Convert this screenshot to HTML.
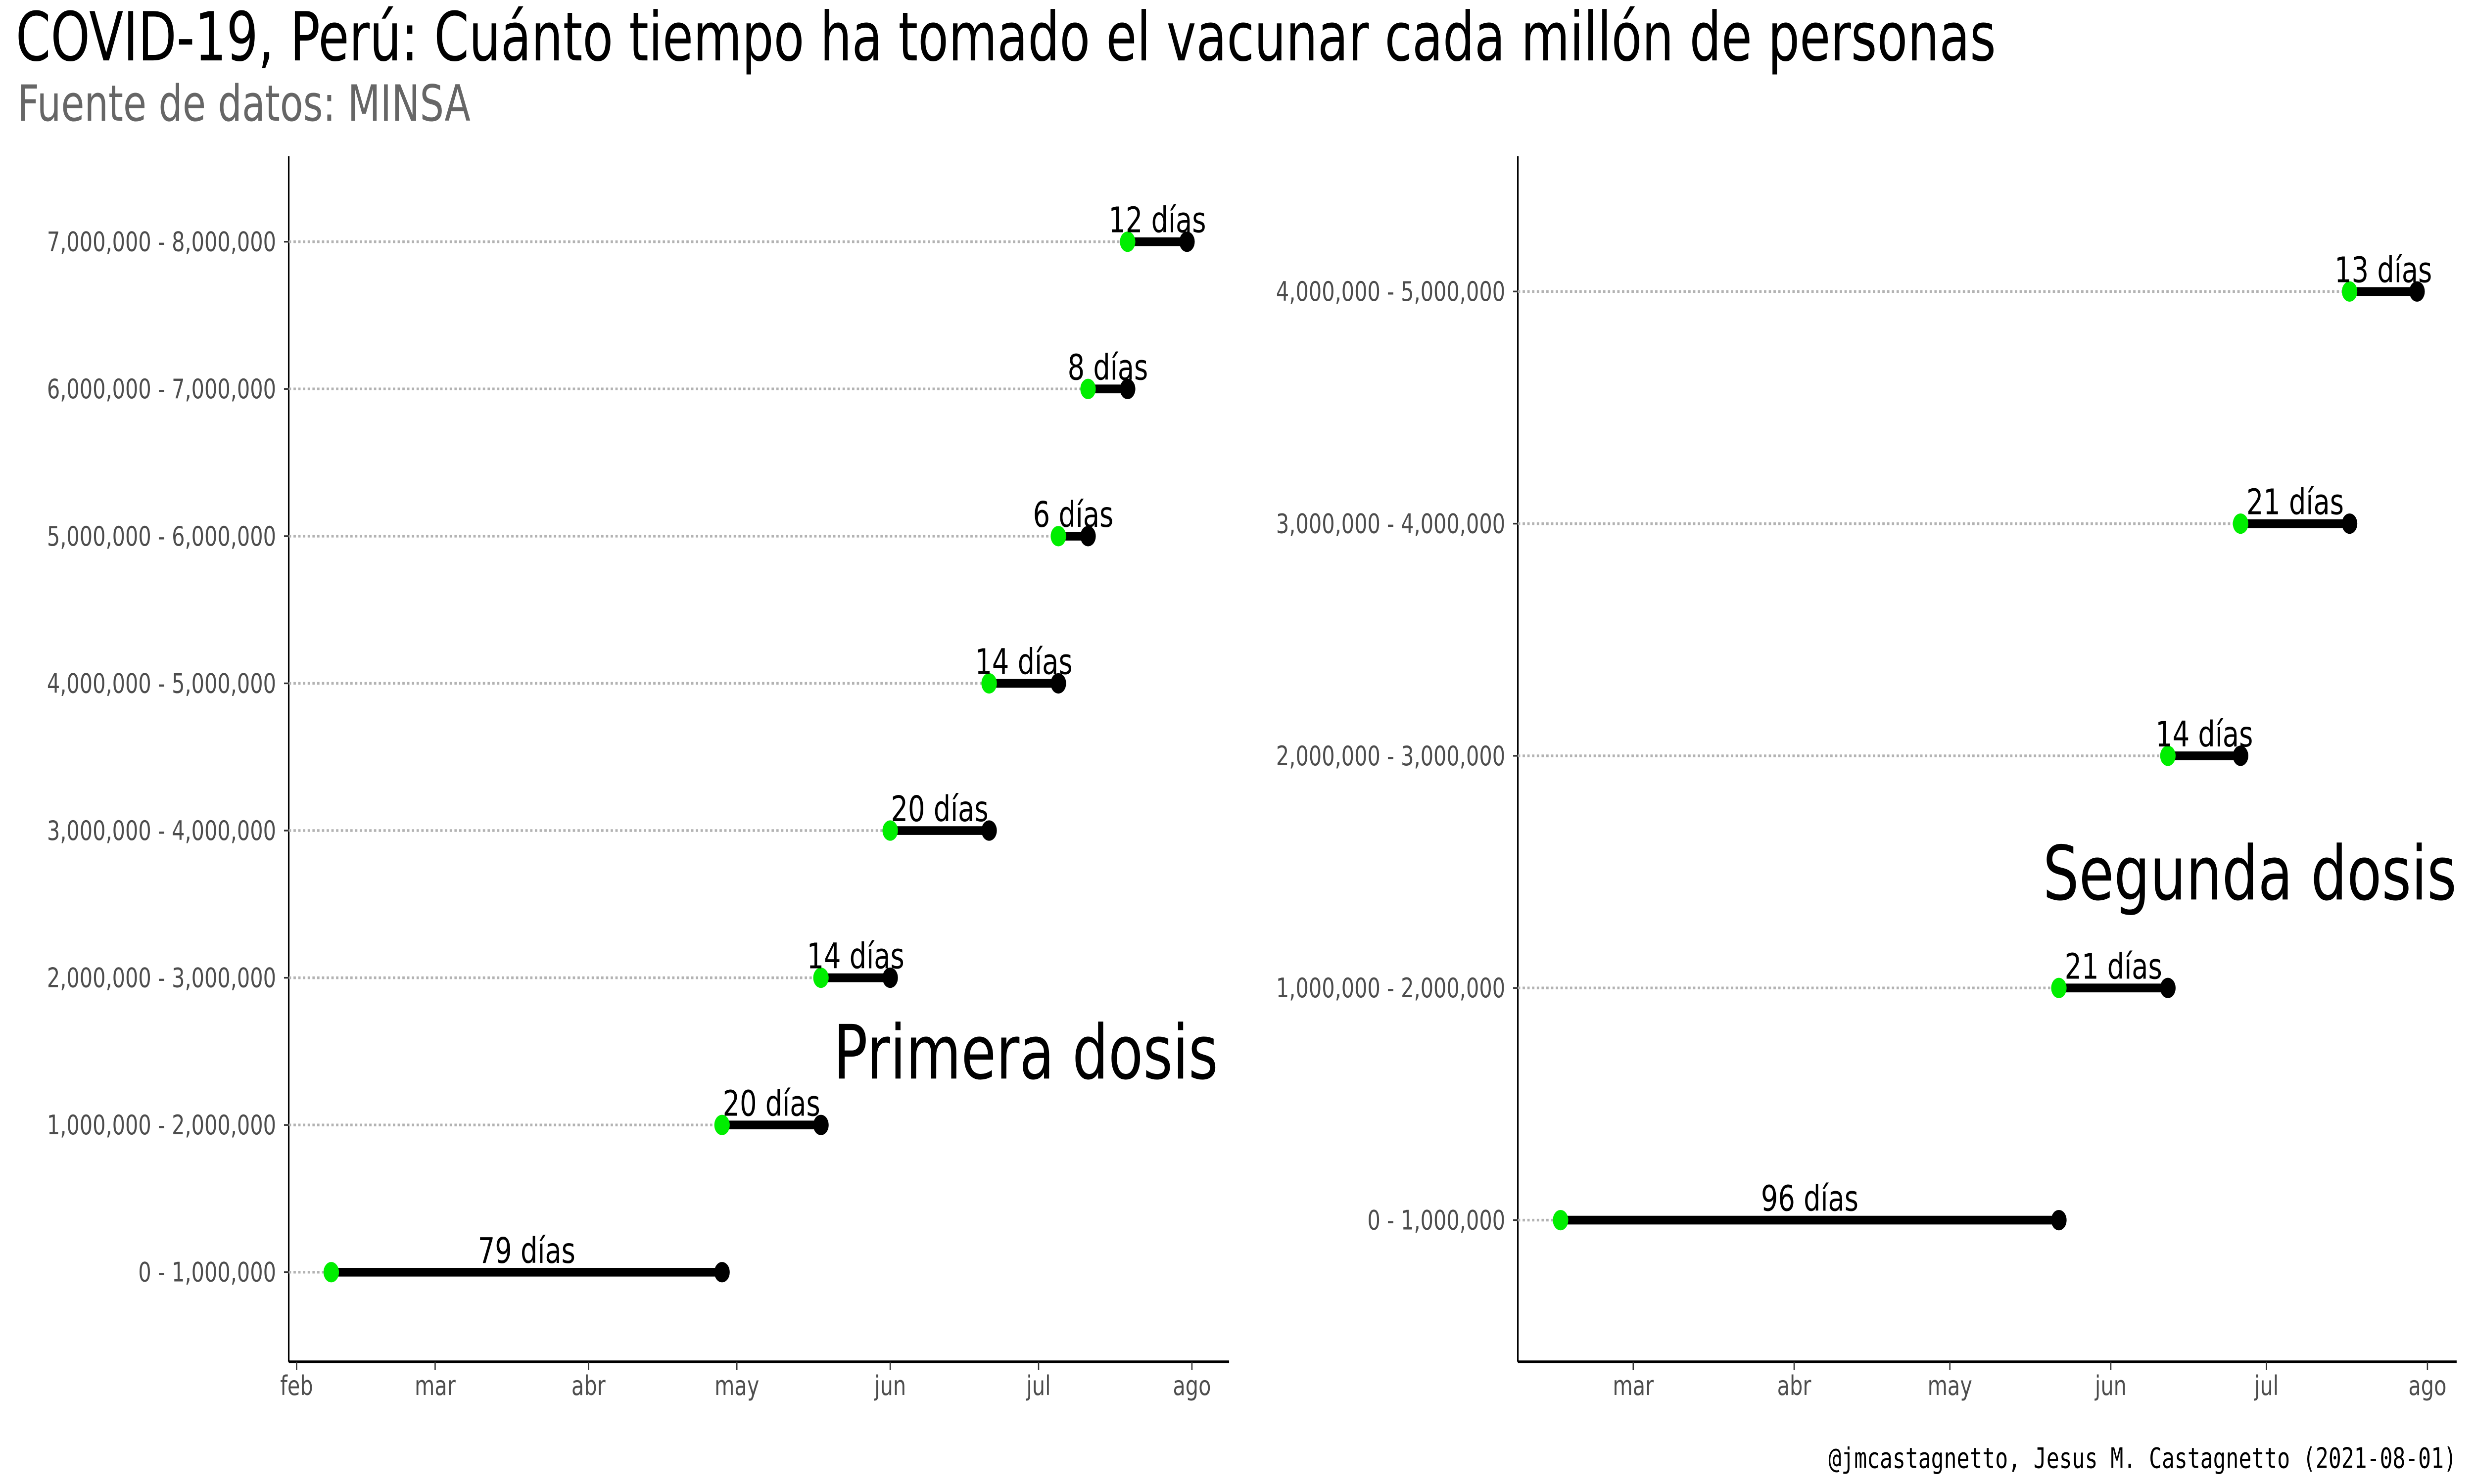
<!DOCTYPE html>
<html><head><meta charset="utf-8"><style>html,body{margin:0;padding:0;background:#fff;overflow:hidden;width:100%;height:100%}svg{display:block;width:100vw;height:100vh}</style></head>
<body>
<svg id="chart" xmlns="http://www.w3.org/2000/svg" viewBox="0 0 1568 712.73" preserveAspectRatio="none" font-family="'DejaVu Sans','Liberation Sans',sans-serif">
<g id="root">
<text x="10" y="29" font-size="32.5" fill="#000" textLength="1255" lengthAdjust="spacingAndGlyphs">COVID-19, Perú: Cuánto tiempo ha tomado el vacunar cada millón de personas</text>
<text x="11" y="58" font-size="24" fill="#666">Fuente de datos: MINSA</text>
<text x="1557" y="705" font-size="13.5" text-anchor="end" font-family="'DejaVu Sans Mono','Liberation Mono',monospace" fill="#000">@jmcastagnetto, Jesus M. Castagnetto (2021-08-01)</text>
</g>
</svg>
<script>
// days since Feb 1 2021
const leftCats = ["0 - 1,000,000","1,000,000 - 2,000,000","2,000,000 - 3,000,000","3,000,000 - 4,000,000","4,000,000 - 5,000,000","5,000,000 - 6,000,000","6,000,000 - 7,000,000","7,000,000 - 8,000,000"];
const leftStart = [7,86,106,120,140,154,160,168];
const leftEnd = [86,106,120,140,154,160,168,180];
const leftDays = ["79 días","20 días","14 días","20 días","14 días","6 días","8 días","12 días"];
const rightCats = ["0 - 1,000,000","1,000,000 - 2,000,000","2,000,000 - 3,000,000","3,000,000 - 4,000,000","4,000,000 - 5,000,000"];
const rightStart = [14,110,131,145,166];
const rightEnd = [110,131,145,166,179];
const rightDays = ["96 días","21 días","14 días","21 días","13 días"];
const leftTickDays = [0,28,59,89,120,150,181];
const leftTickLabels = ["feb","mar","abr","may","jun","jul","ago"];
const rightTickDays = [28,59,89,120,150,181];
const rightTickLabels = ["mar","abr","may","jun","jul","ago"];

const NS="http://www.w3.org/2000/svg";
const root=document.getElementById('root');
function mk(tag,attrs,parent,txt){const e=document.createElementNS(NS,tag);for(const k in attrs)e.setAttribute(k,attrs[k]);if(txt!==undefined)e.textContent=txt;(parent||root).appendChild(e);return e;}

function panel(name,cfg){
  const g=mk('g',{});
  
  
  const x=d=>cfg.a+d*cfg.k;
  const y=i=>cfg.y0+i*cfg.dy;
  const ya=mk('line',{x1:cfg.left,y1:75,x2:cfg.left,y2:654,stroke:'#000','stroke-width':1},g);
  
  
  const xa=mk('line',{x1:cfg.left,y1:654,x2:cfg.right,y2:654,stroke:'#000','stroke-width':1.2},g);
  
  
  cfg.tickDays.forEach((d,i)=>{
    const t=mk('line',{x1:x(d),y1:654,x2:x(d),y2:658,stroke:'#333','stroke-width':0.8},g);
    
    
    const l=mk('text',{x:x(d),y:670,'font-size':13,'text-anchor':'middle',fill:'#4d4d4d'},g,cfg.tickLabels[i]);
    
    
  });
  cfg.cats.forEach((c,i)=>{
    const yy=y(i);
    const tk=mk('line',{x1:cfg.left-3,y1:yy,x2:cfg.left,y2:yy,stroke:'#333','stroke-width':0.8},g);
    
    
    const tl=mk('text',{x:cfg.left-8,y:yy+4.5,'font-size':13,'text-anchor':'end',fill:'#4d4d4d'},g,c);
    
    
    const gl=mk('line',{x1:cfg.left,y1:yy,x2:x(cfg.start[i]),y2:yy,stroke:'#b3b3b3','stroke-width':1.3,'stroke-dasharray':'1.5 1.5'},g);
    
    
    const seg=mk('line',{x1:x(cfg.start[i]),y1:yy,x2:x(cfg.end[i]),y2:yy,stroke:'#000','stroke-width':4.2},g);
    
    
    const p1=mk('circle',{cx:x(cfg.start[i]),cy:yy,r:4.9,fill:'#00ee00'},g);
    
    
    const p2=mk('circle',{cx:x(cfg.end[i]),cy:yy,r:4.9,fill:'#000'},g);
    
    
    const lb=mk('text',{x:(x(cfg.start[i])+x(cfg.end[i]))/2,y:yy-4.5,'font-size':17,'text-anchor':'middle',fill:'#000'},g,cfg.days[i]);
    
    
  });
  const pt=mk('text',{x:cfg.titleX,y:cfg.titleY,'font-size':36,'text-anchor':'end',fill:'#000'},g,cfg.title);
  
  
}
panel('primera-dosis-panel',{a:188,k:3.135,left:183,right:779,y0:611,dy:-70.7,cats:leftCats,start:leftStart,end:leftEnd,days:leftDays,tickDays:leftTickDays,tickLabels:leftTickLabels,title:'Primera dosis',titleX:772,titleY:518});
panel('segunda-dosis-panel',{a:943,k:3.29,left:962,right:1557,y0:586,dy:-111.5,cats:rightCats,start:rightStart,end:rightEnd,days:rightDays,tickDays:rightTickDays,tickLabels:rightTickLabels,title:'Segunda dosis',titleX:1557,titleY:432});
</script>
</body></html>
